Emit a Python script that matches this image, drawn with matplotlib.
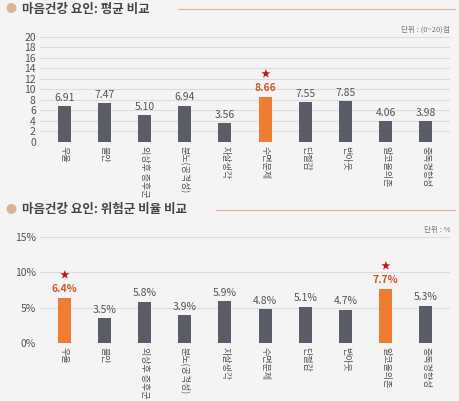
import matplotlib
matplotlib.use("Agg")
import matplotlib.pyplot as plt

plt.rcParams['font.family'] = ['Noto Sans CJK KR', 'DejaVu Sans']

categories = ['우울', '불안', '외상후 증후군', '분노(공격성)', '자살생각', '수면문제', '단절감', '번아웃', '알코올의존', '중독경향성']
mean_scores = [6.91, 7.47, 5.10, 6.94, 3.56, 8.66, 7.55, 7.85, 4.06, 3.98]
mean_labels = ['6.91', '7.47', '5.10', '6.94', '3.56', '8.66', '7.55', '7.85', '4.06', '3.98']
risk_pct = [6.4, 3.5, 5.8, 3.9, 5.9, 4.8, 5.1, 4.7, 7.7, 5.3]
mean_hl = [5]
risk_hl = [0, 8]

W, H = 459, 401
bg = '#f4f4f4'
fig = plt.figure(figsize=(W/100, H/100), dpi=100, facecolor=bg)
gray = '#5a5d68'
orange = '#ee7d31'

def fx(px): return px / W
def fy(py): return 1 - py / H

def panel(title, y_title, line_x0, ax_rect, vals, labels, hl, ylim, yticks, yticklabels, unit, offs, staroff):
    fig.text(fx(6), fy(y_title), '●', color='#d9b49a', fontsize=8, va='center')
    fig.text(fx(22), fy(y_title), title, color='#444444', fontsize=9, fontweight='bold', va='center')
    fig.add_artist(plt.Line2D([fx(line_x0), fx(455)], [fy(y_title), fy(y_title)], color='#e8b49a', lw=0.9))
    ax = fig.add_axes(ax_rect)
    ax.set_facecolor(bg)
    x = list(range(len(vals)))
    cols = [orange if i in hl else gray for i in x]
    ax.bar(x, vals, width=0.32, color=cols, zorder=3)
    ax.set_ylim(*ylim)
    ax.set_xlim(-0.6, len(vals) - 0.4)
    ax.set_yticks(yticks)
    ax.set_yticklabels(yticklabels, fontsize=7.5, color='#555555')
    ax.grid(axis='y', color='#dddddd', lw=0.8, zorder=0)
    for s in ax.spines.values():
        s.set_visible(False)
    ax.tick_params(length=0, pad=3)
    ax.set_xticks(x)
    ax.set_xticklabels(categories, rotation=-90, fontsize=6.5, color='#555555', va='top')
    for i, v in enumerate(vals):
        c = '#d0552a' if i in hl else '#555555'
        ax.text(i, v + offs, labels[i], ha='center', va='bottom', fontsize=7.5, color=c,
                fontweight='bold' if i in hl else 'normal')
        if i in hl:
            ax.text(i, v + staroff, '★', ha='center', va='bottom', fontsize=7, color='#c0101a')
    ax.text(1.0, 1.03, unit, transform=ax.transAxes, ha='right', va='bottom', fontsize=5.5, color='#777777')
    return ax

panel('마음건강 요인: 평균 비교', 9, 178, [fx(40), fy(142), fx(410), (142-37)/H], mean_scores, mean_labels,
      mean_hl, (0, 20), range(0, 21, 2), [str(t) for t in range(0, 21, 2)], '단위 : (0~20)점', 0.6, 3.3)
panel('마음건강 요인: 위험군 비율 비교', 210, 216, [fx(40), fy(343), fx(410), (343-237)/H], risk_pct,
      [f'{v:.1f}%' for v in risk_pct], risk_hl, (0, 15), [0, 5, 10, 15], ['0%', '5%', '10%', '15%'],
      '단위 : %', 0.5, 2.5)

fig.savefig('out.png', dpi=100, facecolor=bg)
